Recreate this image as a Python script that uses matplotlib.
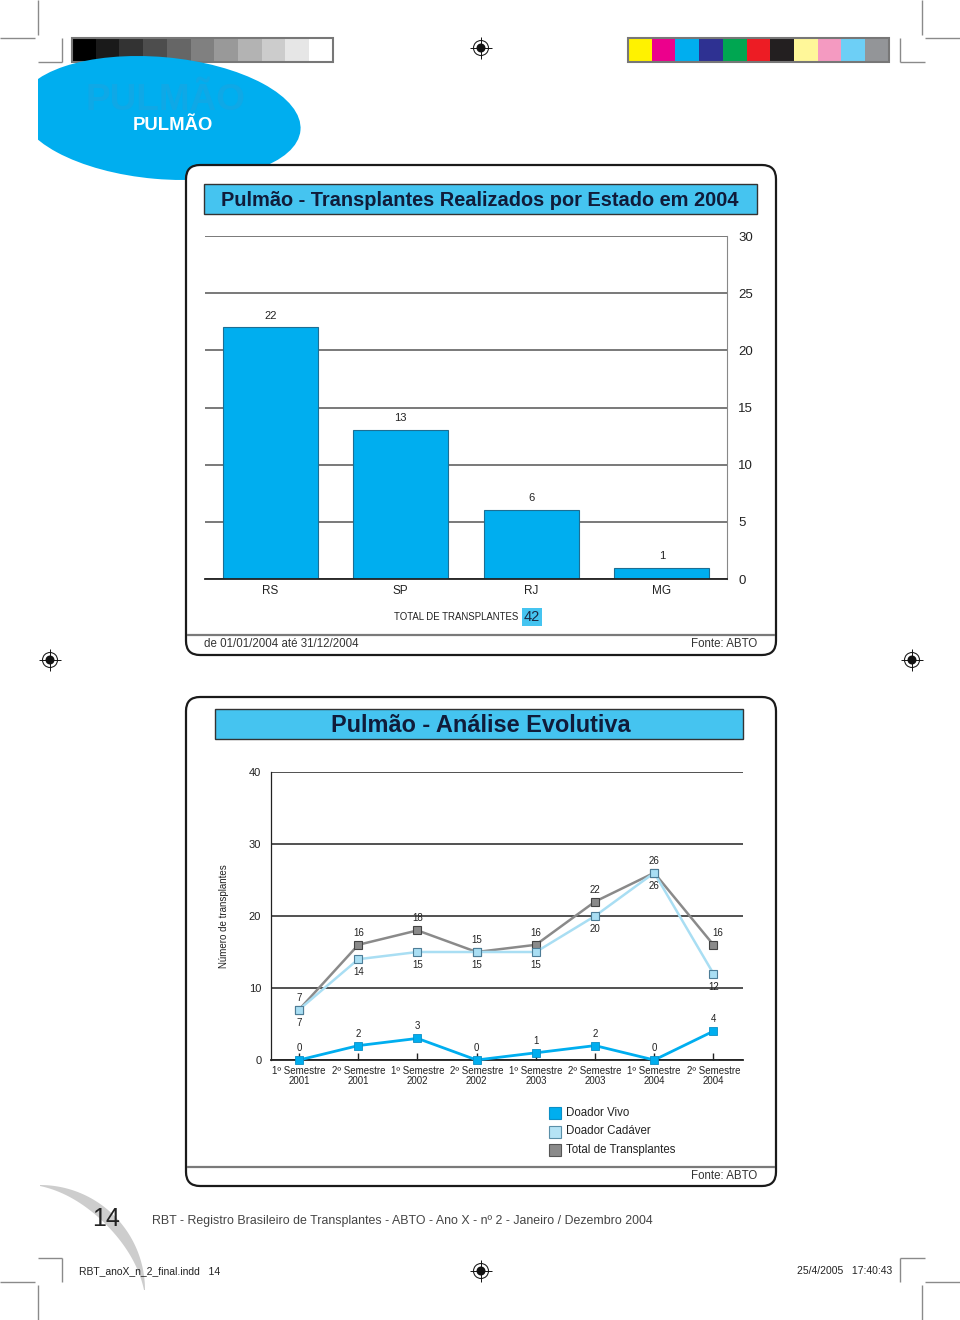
import matplotlib
matplotlib.use("Agg")
import numpy as np
import matplotlib.pyplot as plt
from matplotlib.patches import Rectangle, FancyBboxPatch, Ellipse, Circle, Polygon

FONT = ["Liberation Sans", "DejaVu Sans"]
plt.rcParams["font.family"] = FONT

# --- data -------------------------------------------------------------
states = ["RS", "SP", "RJ", "MG"]
state_totals = [22, 13, 6, 1]
total_2004 = 42

periods = [
    "1º Semestre\n2001", "2º Semestre\n2001",
    "1º Semestre\n2002", "2º Semestre\n2002",
    "1º Semestre\n2003", "2º Semestre\n2003",
    "1º Semestre\n2004", "2º Semestre\n2004",
]
doador_vivo = [0, 2, 3, 0, 1, 2, 0, 4]
doador_cadaver = [7, 14, 15, 15, 15, 20, 26, 12]
total_transplantes = [7, 16, 18, 15, 16, 22, 26, 16]

gray_swatches = ["#000000", "#1a1a1a", "#333333", "#4d4d4d", "#666666", "#808080",
                 "#999999", "#b3b3b3", "#cccccc", "#e6e6e6", "#ffffff"]
color_swatches = ["#fff200", "#ec008c", "#00aeef", "#2e3192", "#00a651", "#ed1c24",
                  "#231f20", "#fff799", "#f49ac1", "#6dcff6", "#939598"]

# --- colours ----------------------------------------------------------
CYAN = "#00aeef"
TITLE_BG = "#45c4f0"
TITLE_FG = "#101c3a"
CAD = "#a9def3"
GRAY = "#8a8a8a"

W, H = 960, 1320
fig = plt.figure(figsize=(W / 100, H / 100), dpi=100)
page = fig.add_axes([0, 0, 1, 1], zorder=0)
page.set_xlim(0, W)
page.set_ylim(H, 0)
page.axis("off")


def fig_rect(x0, y0, x1, y1):
    return [x0 / W, 1 - y1 / H, (x1 - x0) / W, (y1 - y0) / H]


def fit_width(t, target):
    r = fig.canvas.get_renderer()
    w = t.get_window_extent(r).width
    t.set_fontsize(t.get_fontsize() * target / w)
    return t.get_fontsize()


def line(x0, y0, x1, y1, **kw):
    kw.setdefault("color", "#8a8a8a")
    kw.setdefault("lw", 1.0)
    page.plot([x0, x1], [y0, y1], solid_capstyle="butt", **kw)


def reg_mark(x, y):
    page.add_patch(Circle((x, y), 7.5, fc="white", ec="#222", lw=0.8))
    page.add_patch(Circle((x, y), 4.5, fc="#111", ec="none"))
    line(x - 11, y, x + 11, y, color="#111", lw=0.7)
    line(x, y - 11, x, y + 11, color="#111", lw=0.7)


# --- printer marks ----------------------------------------------------
line(38, 0, 38, 35)
line(0, 38, 35, 38)
line(62, 38, 62, 62)
line(38, 62, 62, 62)
line(922, 0, 922, 35)
line(925, 38, 960, 38)
line(900, 38, 900, 62)
line(900, 62, 925, 62)
line(0, 1282, 35, 1282)
line(38, 1285, 38, 1320)
line(62, 1258, 62, 1282)
line(38, 1258, 62, 1258)
line(900, 1258, 900, 1282)
line(900, 1258, 925, 1258)
line(925, 1282, 960, 1282)
line(922, 1285, 922, 1320)

sw = 23.7
for i, c in enumerate(gray_swatches):
    page.add_patch(Rectangle((72 + i * sw, 38), sw, 24, fc=c, ec="none"))
page.add_patch(Rectangle((72, 38), sw * 11, 24, fc="none", ec="#777", lw=1.5))
for i, c in enumerate(color_swatches):
    page.add_patch(Rectangle((628 + i * sw, 38), sw, 24, fc=c, ec="none"))
page.add_patch(Rectangle((628, 38), sw * 11, 24, fc="none", ec="#777", lw=1.5))

for x, y in [(481, 48), (50, 660), (912, 660), (481, 1271)]:
    reg_mark(x, y)

# --- section blob -----------------------------------------------------
blob = Ellipse((160, 118), 282, 122, angle=5, fc=CYAN, ec="none")
page.add_patch(blob)
blob.set_clip_path(Rectangle((38, 0), 400, 300, transform=page.transData))
ghost = page.text(165, 101, "PULMÃO", color="#0fa8e6", fontsize=25, fontweight="bold",
                  ha="center", va="center")
fit_width(ghost, 160)
head = page.text(173, 125, "PULMÃO", color="white", fontsize=14, fontweight="bold",
                 ha="center", va="center")
fit_width(head, 80)

# --- panel frames -----------------------------------------------------
for (x0, y0, x1, y1, sep) in [(186, 165, 776, 655, 635), (186, 697, 776, 1186, 1167)]:
    page.add_patch(FancyBboxPatch((x0, y0), x1 - x0, y1 - y0,
                                  boxstyle="round,pad=0,rounding_size=14",
                                  fc="white", ec="#1a1a1a", lw=1.6, zorder=2))
    line(x0 + 1, sep, x1 - 1, sep, color="#7a7a7a", lw=1.6, zorder=3)

page.add_patch(Rectangle((204, 184), 553, 30, fc=TITLE_BG, ec="#333", lw=1, zorder=3))
t1 = page.text(480, 200, "Pulmão - Transplantes Realizados por Estado em 2004",
               color=TITLE_FG, fontsize=15, fontweight="bold",
               ha="center", va="center", zorder=4)
fit_width(t1, 520)

page.add_patch(Rectangle((215, 709), 528, 30, fc=TITLE_BG, ec="#333", lw=1, zorder=3))
t2 = page.text(481, 726, "Pulmão - Análise Evolutiva",
               color=TITLE_FG, fontsize=15, fontweight="bold",
               ha="center", va="center", zorder=4)
fit_width(t2, 300)

# panel 1 footer
tt = page.text(394, 617, "TOTAL DE TRANSPLANTES", fontsize=9, ha="left", va="center",
               color="#222", zorder=4)
fit_width(tt, 124)
page.add_patch(Rectangle((522, 608), 20, 18, fc=TITLE_BG, ec="none", zorder=3))
page.text(532, 617, str(total_2004), fontsize=10.5, ha="center", va="center",
          color="#1a2a44", zorder=4)
tp = page.text(204, 644, "de 01/01/2004 até 31/12/2004", fontsize=9.5, ha="left",
               va="center", color="#333", zorder=4)
fs = fit_width(tp, 155)
page.text(757, 644, "Fonte: ABTO", fontsize=fs, ha="right", va="center",
          color="#333", zorder=4)
page.text(757, 1176, "Fonte: ABTO", fontsize=fs, ha="right", va="center",
          color="#333", zorder=4)

# --- bar chart: transplants by state ----------------------------------
ax1 = fig.add_axes(fig_rect(205, 236, 727, 579), zorder=5)
ax1.patch.set_alpha(0)
x_states = list(range(len(states)))
ax1.bar(x_states, state_totals, width=0.73, color=CYAN, edgecolor="#1d6e93",
        linewidth=0.8, zorder=3)
for xi, v in zip(x_states, state_totals):
    ax1.annotate(str(v), (xi, v), xytext=(0, 5), textcoords="offset points",
                 ha="center", va="bottom", fontsize=8, color="#222")
ax1.set_xlim(-0.5, 3.5)
ax1.set_ylim(0, 30)
ax1.set_yticks(range(0, 31, 5))
ax1.yaxis.tick_right()
ax1.yaxis.grid(True, color="#555", lw=1.1, zorder=1)
ax1.set_xticks(x_states)
ax1.set_xticklabels(states)
ax1.tick_params(axis="both", length=0, colors="#222")
ax1.tick_params(axis="y", pad=8, labelsize=9.5)
ax1.tick_params(axis="x", pad=4, labelsize=8.5)
for s in ["left", "top"]:
    ax1.spines[s].set_visible(False)
ax1.spines["right"].set_color("#888")
ax1.spines["bottom"].set_color("#222")
ax1.spines["bottom"].set_linewidth(1.3)
ax1.spines["bottom"].set_zorder(4)

# --- line chart: evolution --------------------------------------------
ax2 = fig.add_axes(fig_rect(271, 772, 743, 1060), zorder=5)
ax2.patch.set_alpha(0)
xp = list(range(len(periods)))
ax2.plot(xp, total_transplantes, color=GRAY, lw=1.8, marker="s", ms=5.5,
         mfc=GRAY, mec="#444", mew=0.8, zorder=3)
ax2.plot(xp, doador_cadaver, color=CAD, lw=1.8, marker="s", ms=5.5,
         mfc=CAD, mec="#4d7d97", mew=0.8, zorder=4)
ax2.plot(xp, doador_vivo, color=CYAN, lw=2.0, marker="s", ms=5.5,
         mfc=CYAN, mec="#0b8fc6", mew=0.6, zorder=5, clip_on=False)

lab = dict(textcoords="offset pixels", ha="center", va="center",
           fontsize=7, color="#222")
for xi, v in zip(xp, total_transplantes):
    dx = 4 if xi == len(xp) - 1 else 0
    ax2.annotate(str(v), (xi, v), xytext=(dx, 12), **lab)
for xi, v in zip(xp, doador_cadaver):
    ax2.annotate(str(v), (xi, v), xytext=(0, -13), **lab)
for xi, v in zip(xp, doador_vivo):
    ax2.annotate(str(v), (xi, v), xytext=(0, 12), **lab)

ax2.set_xlim(-0.475, 7.5)
ax2.set_ylim(0, 40)
ax2.set_yticks(range(0, 41, 10))
ax2.yaxis.grid(True, color="#333", lw=1.2, zorder=1)
ax2.set_xticks(xp)
ax2.set_xticklabels(periods, linespacing=1.0)
ax2.tick_params(axis="y", length=0, pad=7, labelsize=8, colors="#222")
ax2.tick_params(axis="x", direction="in", length=5, width=1, pad=4,
                labelsize=7, colors="#222")
for s in ["right", "top"]:
    ax2.spines[s].set_visible(False)
ax2.spines["left"].set_color("#222")
ax2.spines["left"].set_linewidth(0.9)
ax2.spines["bottom"].set_color("#222")
ax2.spines["bottom"].set_linewidth(1.3)
ax2.set_ylabel("Número de transplantes", fontsize=7, color="#222", labelpad=14)

# legend
legend_items = [("Doador Vivo", CYAN, "#0b8fc6"),
                ("Doador Cadáver", "#b5e3f5", "#5a8fa8"),
                ("Total de Transplantes", GRAY, "#555")]
for i, (name, fc, ec) in enumerate(legend_items):
    y = 1113 + i * 18.5
    page.add_patch(Rectangle((549, y - 6), 12, 12, fc=fc, ec=ec, lw=0.8, zorder=4))
    page.text(566, y, name, fontsize=8.3, ha="left", va="center",
              color="#222", zorder=4)

# --- page footer ------------------------------------------------------
th = np.linspace(-90, 0, 60)
thick = 1 + 11 * np.sin(np.radians((th + 90) * 2))
r_out = 105
cx, cy = 40, 1290
outer = np.column_stack([cx + r_out * np.cos(np.radians(th)),
                         cy + r_out * np.sin(np.radians(th))])
inner = np.column_stack([cx + (r_out - thick) * np.cos(np.radians(th)),
                         cy + (r_out - thick) * np.sin(np.radians(th))])[::-1]
page.add_patch(Polygon(np.vstack([outer, inner]), closed=True, fc="#cdcdcd", ec="none"))
page.text(106, 1219, "14", fontsize=18, ha="center", va="center", color="#222")
tf = page.text(152, 1221,
               "RBT - Registro Brasileiro de Transplantes - ABTO - Ano X - nº 2 - Janeiro / Dezembro 2004",
               fontsize=10.5, ha="left", va="center", color="#444")
fit_width(tf, 503)
page.text(79, 1271, "RBT_anoX_n_2_final.indd   14", fontsize=7.5, ha="left",
          va="center", color="#222")
page.text(892, 1271, "25/4/2005   17:40:43", fontsize=7.5, ha="right",
          va="center", color="#222")

fig.savefig("out.png", dpi=100)
